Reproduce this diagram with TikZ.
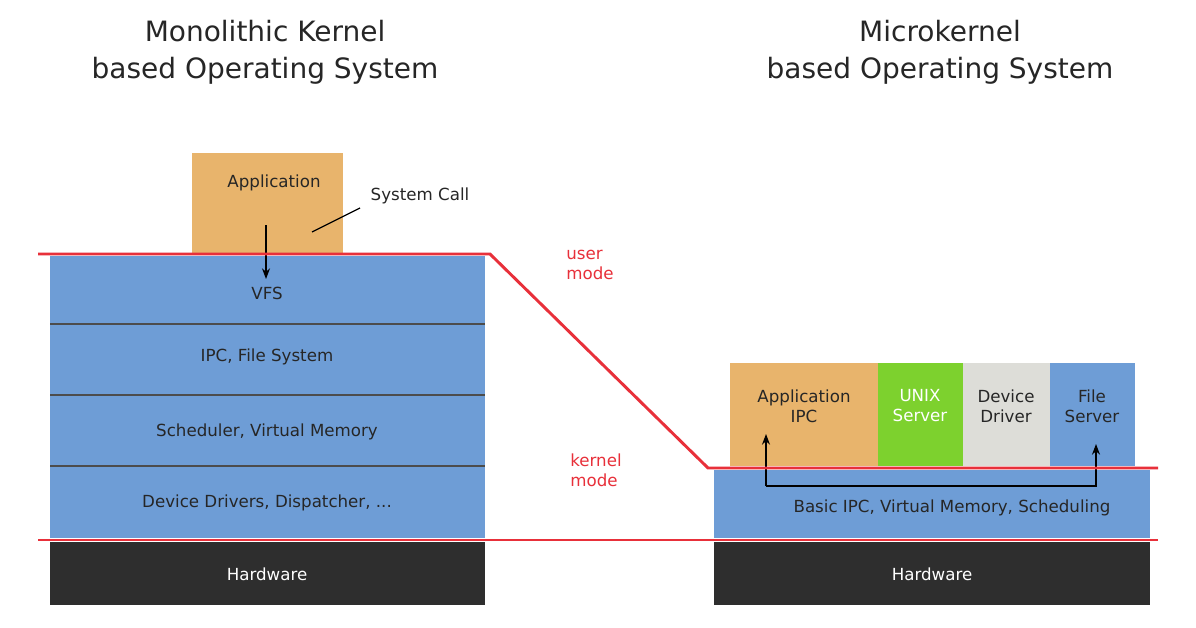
\documentclass[tikz,border=0pt]{standalone}
\usepackage{fontspec}
\setmainfont{DejaVu Sans}
\usetikzlibrary{arrows.meta}
\definecolor{kblue}{HTML}{6E9DD6}
\definecolor{korange}{HTML}{E8B46C}
\definecolor{kgreen}{HTML}{7DD12E}
\definecolor{kgray}{HTML}{DDDDD8}
\definecolor{kdark}{HTML}{2E2E2E}
\definecolor{kred}{HTML}{E8303A}
\begin{document}
\begin{tikzpicture}[x=0.75pt,y=-0.75pt,
  lbl/.style={font=\fontsize{12.5}{15}\selectfont,align=center,text=black!85},
  ttl/.style={font=\fontsize{21}{28}\selectfont,align=center,text=black!85},
  red/.style={draw=kred,line width=2.2pt},
  arr/.style={-{Stealth[length=8pt,width=6pt]},line width=0.9pt}]
\useasboundingbox[fill=white] (0,0) rectangle (1196,628);
\node[ttl] (t1) at (265,52) {Monolithic Kernel\\based Operating System};
\node[ttl] (t2) at (940,52) {Microkernel\\based Operating System};
% left
\fill[korange] (192,153) rectangle (343,253);
\node[lbl] (app) at (274,183) {Application};
\fill[kblue] (50,256) rectangle (485,538);
\foreach \y in {324,395,466} \draw[line width=1.2pt,black!70] (50,\y) -- (485,\y);
\node[lbl] (vfs) at (267,293) {VFS};
\node[lbl] (ipc) at (267,357) {IPC, File System};
\node[lbl] (sch) at (267,432) {Scheduler, Virtual Memory};
\node[lbl] (dd) at (267,503) {Device Drivers, Dispatcher, ...};
\fill[kdark] (50,542) rectangle (485,605);
\node[lbl,text=white] (hw1) at (267,574) {Hardware};
\node[lbl] (sc) at (420,196) {System Call};
\coordinate (sc1) at (312,232); \coordinate (sc2) at (360,208);
\draw[line width=1pt] (sc1) -- (sc2);
\coordinate (a1) at (266,225); \coordinate (a2) at (266,279);
\draw[arr] (a1) -- (a2);
% right
\fill[korange] (730,363) rectangle (878,466);
\fill[kgreen] (878,363) rectangle (963,466);
\fill[kgray] (963,363) rectangle (1050,466);
\fill[kblue] (1050,363) rectangle (1135,466);
\node[lbl] (aipc) at (804,406) {Application\\IPC};
\node[lbl,text=white] (unix) at (920,406) {UNIX\\Server};
\node[lbl] (ddr) at (1006,406) {Device\\Driver};
\node[lbl] (fs) at (1092,406) {File\\Server};
\fill[kblue] (714,470) rectangle (1150,538);
\node[lbl] (bipc) at (952,508) {Basic IPC, Virtual Memory, Scheduling};
\fill[kdark] (714,542) rectangle (1150,605);
\node[lbl,text=white] (hw2) at (932,574) {Hardware};
\coordinate (m1) at (766,486); \coordinate (m2) at (1096,486);
\draw[arr] (m1) -- (766,434);
\draw[arr] (m1) -- (m2) -- (1096,444);
% red lines
\draw[red] (38,254) -- (490,254) -- (708,468) -- (1158,468);
\draw[red] (38,540) -- (1158,540);
\node[lbl,text=kred,align=left] (um) at (590,265) {user\\mode};
\node[lbl,text=kred,align=left] (km) at (596,470) {kernel\\mode};
\end{tikzpicture}
\end{document}
